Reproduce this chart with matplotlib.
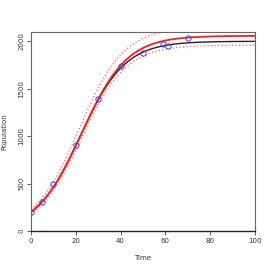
import numpy as np
import matplotlib
matplotlib.use("Agg")
from matplotlib import pyplot as plt

# observed data
obs_time = [0, 5, 10, 20, 30, 40, 50, 59, 61, 70]
obs_pop = [198, 303, 500, 909, 1388, 1737, 1874, 1969, 1955, 2033]

# logistic curves: K, r, N0
fit_black = [2002, 0.100, 200]
fit_red = [2060, 0.0987, 200]
fit_upper = [2150, 0.100, 225]
fit_lower = [1962, 0.1012, 180]

xticks = [0, 20, 40, 60, 80, 100]
yticks = [0, 500, 1000, 1500, 2000]


def logistic(t, p):
    K, r, n0 = p
    return K / (1 + (K - n0) / n0 * np.exp(-r * t))


fig = plt.figure(figsize=(2.71, 2.71), dpi=100)
ax = fig.add_axes([31/271, 40/271, 224/271, 199/271])

t = np.linspace(0, 100, 400)
ax.plot(t, logistic(t, fit_black), color='#222222', lw=1.0)
ax.plot(t, logistic(t, fit_red), color='#ff1a1a', lw=1.3)
ax.plot(t, logistic(t, fit_upper), color='#ff6060', lw=0.9, ls=(0, (1, 1.8)))
ax.plot(t, logistic(t, fit_lower), color='#ff6060', lw=0.9, ls=(0, (1, 1.8)))
ax.plot(obs_time, obs_pop, 'o', mfc='none', mec='#4040ff', ms=3.8, mew=0.7)

ax.set_xlim(0, 100)
ax.set_ylim(0, 2100)
ax.set_xticks(xticks)
ax.set_yticks(yticks)
ax.set_yticklabels([str(v) for v in yticks], rotation=90, va='center')
ax.tick_params(labelsize=5, length=3, width=0.6, color='#444444', labelcolor='#333333', pad=2)
for s in ax.spines.values():
    s.set_color('#666666')
    s.set_linewidth(0.8)
ax.spines['bottom'].set_color('#222222')
ax.spines['bottom'].set_linewidth(1.0)

ax.set_xlabel('Time', fontsize=5, color='#333333', labelpad=8)
ax.set_ylabel('Population', fontsize=5, color='#333333', labelpad=8)

fig.savefig('out.png', dpi=100)
